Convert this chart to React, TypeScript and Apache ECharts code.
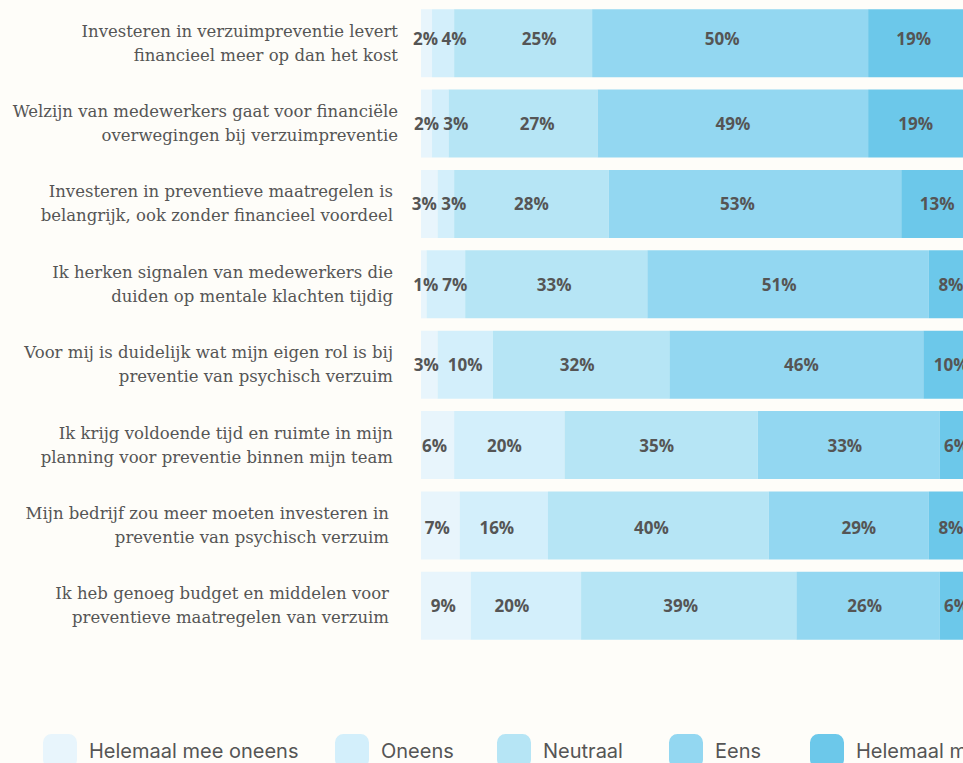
import React, { useEffect, useRef } from "react";
import * as echarts from "echarts";

const categories = [
  "Investeren in verzuimpreventie levert\nfinancieel meer op dan het kost",
  "Welzijn van medewerkers gaat voor financiële\noverwegingen bij verzuimpreventie",
  "Investeren in preventieve maatregelen is\nbelangrijk, ook zonder financieel voordeel",
  "Ik herken signalen van medewerkers die\nduiden op mentale klachten tijdig",
  "Voor mij is duidelijk wat mijn eigen rol is bij\npreventie van psychisch verzuim",
  "Ik krijg voldoende tijd en ruimte in mijn\nplanning voor preventie binnen mijn team",
  "Mijn bedrijf zou meer moeten investeren in\npreventie van psychisch verzuim",
  "Ik heb genoeg budget en middelen voor\npreventieve maatregelen van verzuim",
];

const seriesNames = ["Helemaal mee oneens", "Oneens", "Neutraal", "Eens", "Helemaal mee eens"];
const helemaalOneens = [2, 2, 3, 1, 3, 6, 7, 9];
const oneens = [4, 3, 3, 7, 10, 20, 16, 20];
const neutraal = [25, 27, 28, 33, 32, 35, 40, 39];
const eens = [50, 49, 53, 51, 46, 33, 29, 26];
const helemaalEens = [19, 19, 13, 8, 10, 6, 8, 6];

const seriesValues = [helemaalOneens, oneens, neutraal, eens, helemaalEens];

// styling (not data)
const colors = ["#e8f5fc", "#d3effb", "#b6e5f5", "#93d7f1", "#6cc8ea"];
const legendLefts = [43, 335, 497, 669, 810];
const categoryLabelPad = [0, 0, 5, 5, 5, 5, 9, 9];
// value-label nudges (px) per series, per row, as placed in the reference
const labelDxHelemaalOneens = [-1, 0, -5, 2, -3, -3, -3, -2.5];
const labelDxOneens = [11, 15.5, 8, 9, 0, -5, -7, -14];
const labelDxNeutraal = [16, 14, 0, -2, -4, -4.5, -7, -8];
const labelDxEens = [-8, 0, -17.5, -9, 5, -4, 10, -3.5];
const labelDxHelemaalEens = [-7, -5, 0, 0, 3, 0, 0, 0];
const labelDx = [labelDxHelemaalOneens, labelDxOneens, labelDxNeutraal, labelDxEens, labelDxHelemaalEens];
const valueLabelDy = [-5, 0, 0, 0, 0, 0, 2, 0];

export default function App() {
  const ref = useRef<HTMLDivElement>(null);
  useEffect(() => {
    if (!ref.current) return;
    const chart = echarts.init(ref.current, null, { renderer: "svg" });
    const W = 1100;
    chart.setOption({
      animation: false,
      backgroundColor: "#fefdf9",
      grid: { left: 421, right: W - 973, top: 3, height: 643 },
      xAxis: { type: "value", min: 0, max: 100, show: false },
      yAxis: {
        type: "category",
        inverse: true,
        data: categories.map((c, i) => ({
          value: c,
          textStyle: { padding: [0, categoryLabelPad[i], 4, 0] },
        })),
        axisLine: { show: false },
        axisTick: { show: false },
        splitLine: { show: false },
        axisLabel: {
          margin: 23,
          fontFamily: "DejaVu Serif",
          fontSize: 16.5,
          lineHeight: 24,
          color: "#555555",
          align: "right",
        },
      },
      legend: seriesNames.map((n, i) => ({
        data: [n],
        left: legendLefts[i],
        top: 734,
        padding: 0,
        itemWidth: 34,
        itemHeight: 34,
        icon: "roundRect",
        selectedMode: false,
        textStyle: {
          fontFamily: "Inter",
          fontSize: 20,
          color: "#555555",
          padding: [0, 0, 0, 7],
        },
      })),
      series: seriesValues.map((vals, si) => ({
        name: seriesNames[si],
        type: "bar",
        stack: "total",
        data: vals,
        barWidth: 68,
        itemStyle: { color: colors[si] },
        emphasis: { disabled: true },
        label: {
          show: true,
          position: "inside",
          formatter: "{c}%",
          color: "#555555",
          fontFamily: "Open Sans",
          fontWeight: "bold",
          fontSize: 17,
        },
        labelLayout: (params: any) => {
          const di = params.dataIndex;
          return { dx: labelDx[si][di], dy: valueLabelDy[di] };
        },
      })),
    });
    return () => chart.dispose();
  }, []);
  return (
    <div
      style={{
        position: "fixed",
        left: 0,
        top: 0,
        width: 963,
        height: 763,
        overflow: "hidden",
        background: "#fefdf9",
      }}
    >
      <div ref={ref} style={{ width: 1100, height: 800 }} />
    </div>
  );
}
